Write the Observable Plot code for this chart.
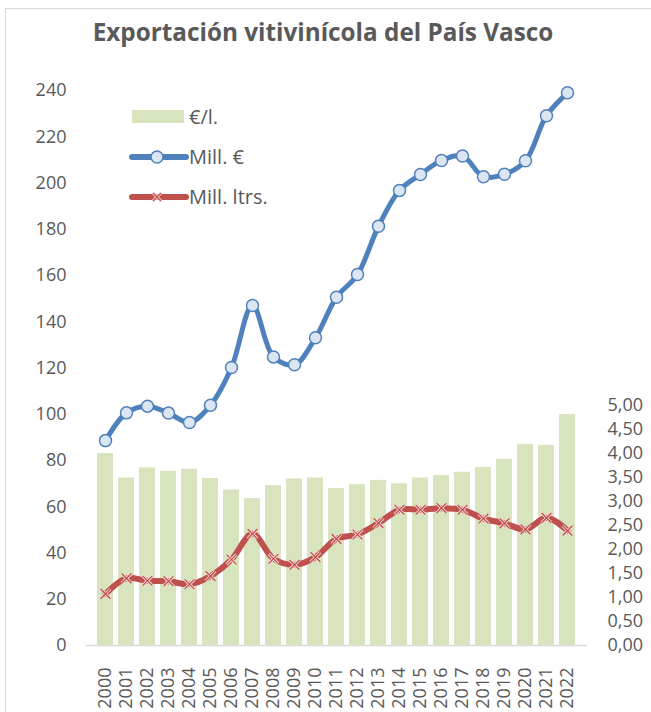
<!DOCTYPE html>
<html><head><meta charset="utf-8">
<script src="https://cdn.jsdelivr.net/npm/d3@7"></script>
<script src="https://cdn.jsdelivr.net/npm/@observablehq/plot@0.6"></script>
<style>
body{margin:0;background:#fff;overflow:hidden;font-family:"Open Sans",sans-serif;}
#wrap{position:relative;width:651px;height:712px;overflow:hidden;background:#fff;}
#frame{position:absolute;left:5px;top:8px;width:700px;height:800px;border:1.5px solid #d9d9d9;box-sizing:border-box;}
#title{position:absolute;left:0;top:15px;width:646px;text-align:center;font-weight:700;font-size:24.3px;color:#595959;white-space:nowrap;}
#chart{position:absolute;left:0;top:62px;}
.legtxt{position:absolute;left:189px;font-size:20px;color:#595959;line-height:24px;white-space:nowrap;}
#legsvg{position:absolute;left:120px;top:100px;}
</style></head>
<body>
<div id="wrap">
  <div id="frame"></div>
  <div id="title">Exportación vitivinícola del País Vasco</div>
  <div id="chart"></div>
  <svg id="legsvg" width="80" height="110">
    <rect x="12" y="10" width="52" height="13" fill="#d7e4bd"></rect>
    <line x1="12" y1="57" x2="66" y2="57" stroke="#4f81bd" stroke-width="6" stroke-linecap="round"></line>
    <circle cx="37" cy="57" r="6" fill="#dce6f2" stroke="#4f81bd" stroke-width="1.5"></circle>
    <line x1="12" y1="97" x2="66" y2="97" stroke="#c0504d" stroke-width="6" stroke-linecap="round"></line>
    <path d="M33,93L41,101M41,93L33,101" stroke="#f2dcdb" stroke-width="3"></path>
    <path d="M33,93L41,101M41,93L33,101" stroke="#c0504d" stroke-width="1.3"></path>
  </svg>
  <div class="legtxt" style="top:105px">€/l.</div>
  <div class="legtxt" style="top:145px">Mill. €</div>
  <div class="legtxt" style="top:185px">Mill. ltrs.</div>
</div>
<script>
const years = ["2000","2001","2002","2003","2004","2005","2006","2007","2008","2009","2010","2011","2012","2013","2014","2015","2016","2017","2018","2019","2020","2021","2022"];
const eurPerL = [4.00,3.49,3.70,3.63,3.67,3.48,3.24,3.06,3.33,3.47,3.49,3.27,3.35,3.44,3.37,3.49,3.54,3.61,3.71,3.88,4.19,4.17,4.81];
const millEur = [88.6,100.6,103.5,100.5,96.4,103.9,120.2,147.0,124.8,121.4,133.1,150.6,160.4,181.3,196.8,203.7,209.7,211.7,202.7,203.8,209.6,229.1,239.0];
const millLtr = [22.3,29.0,28.0,27.8,26.5,30.0,37.2,48.3,37.5,34.9,38.2,46.1,48.0,52.9,58.7,58.7,59.4,58.7,54.9,52.8,50.2,55.2,49.7];
const leftTicks = d3.range(0, 241, 20);
const rightTicks = d3.range(0, 5.001, 0.5);

// secondary axis (€/l.) expressed in primary-axis units
const k = 48 / 2.3125;
const rows = years.map((y, i) => ({year: y, eurL: eurPerL[i], eur: millEur[i], ltr: millLtr[i]}));

const plot = Plot.plot({
  width: 651, height: 650,
  marginTop: 28, marginBottom: 67, marginLeft: 86, marginRight: 64,
  style: {fontFamily: "'Open Sans', sans-serif", fontSize: "18px", color: "#595959", background: "transparent"},
  x: {type: "band", domain: years, paddingInner: 0.234, paddingOuter: 0.117},
  y: {domain: [0, 240]},
  marks: [
    Plot.barY(rows, {x: "year", y: d => d.eurL * k, fill: "#d7e4bd"}),
    Plot.ruleY([0], {stroke: "#d9d9d9", strokeWidth: 1.5}),
    Plot.line(rows, {x: "year", y: "ltr", stroke: "#c0504d", strokeWidth: 6, curve: "catmull-rom"}),
    Plot.dot(rows, {x: "year", y: "ltr", symbol: "times", r: 4.5, stroke: "#f2dcdb", strokeWidth: 3}),
    Plot.dot(rows, {x: "year", y: "ltr", symbol: "times", r: 4.5, stroke: "#c0504d", strokeWidth: 1.3}),
    Plot.line(rows, {x: "year", y: "eur", stroke: "#4f81bd", strokeWidth: 5, curve: "catmull-rom"}),
    Plot.dot(rows, {x: "year", y: "eur", r: 6, fill: "#dce6f2", stroke: "#4f81bd", strokeWidth: 1.5}),
    Plot.axisY({anchor: "left", ticks: leftTicks, tickSize: 0, tickPadding: 20, label: null}),
    Plot.axisY({anchor: "right", ticks: rightTicks.map(v => v * k), tickFormat: d => (d / k).toFixed(2).replace(".", ","), tickSize: 0, tickPadding: 20, label: null}),
    Plot.axisX({tickRotate: -90, tickSize: 0, tickPadding: 22, label: null})
  ]
});
document.getElementById("chart").appendChild(plot);
</script>
</body></html>
